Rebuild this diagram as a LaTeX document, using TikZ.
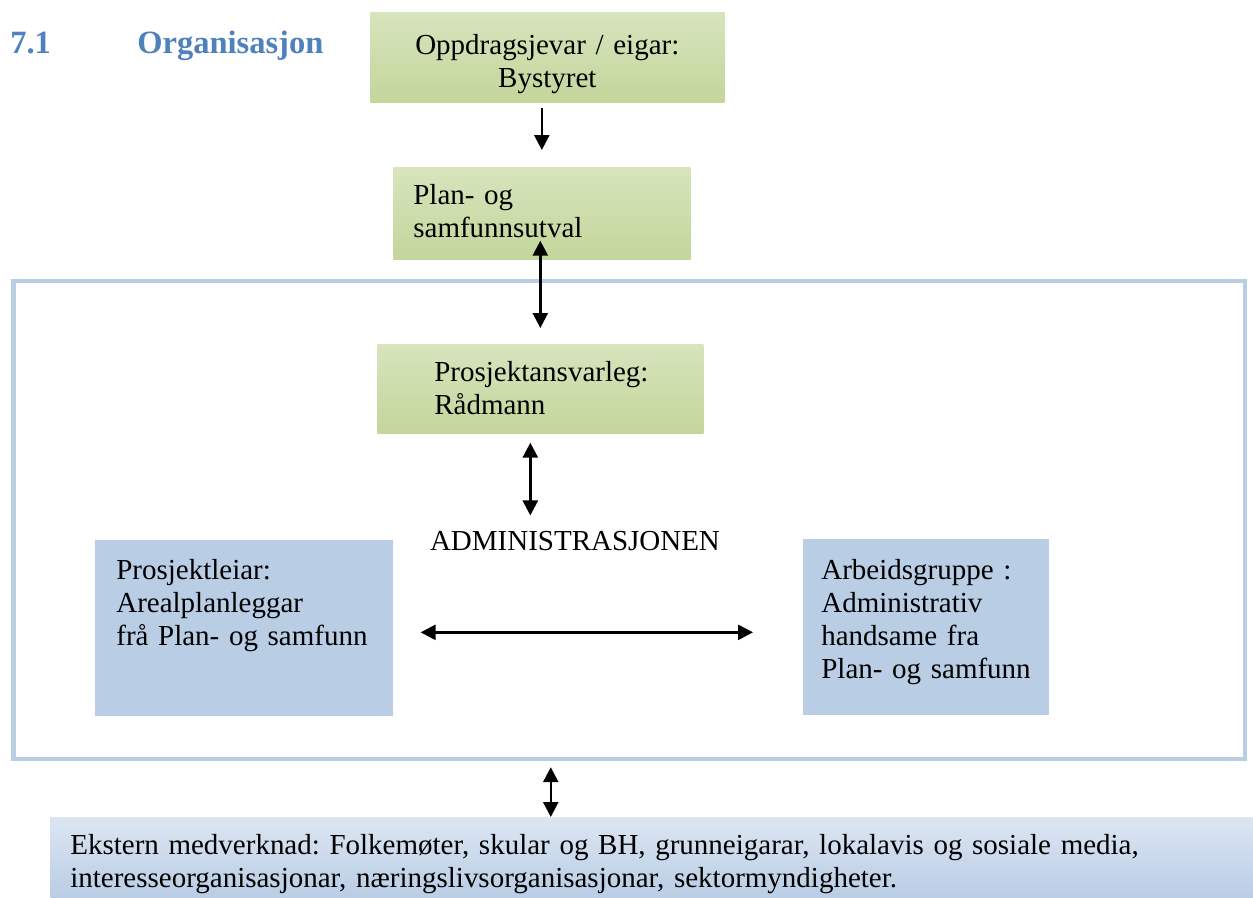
\documentclass[tikz,border=0pt]{standalone}
\usepackage{fontspec}
\setmainfont{Liberation Serif}
\usetikzlibrary{arrows.meta}
\frenchspacing

\definecolor{grontopp}{HTML}{D7E4BD}
\definecolor{gronbotn}{HTML}{C3D69B}
\definecolor{blaboks}{HTML}{B9CDE5}
\definecolor{blatopp}{HTML}{DCE6F2}
\definecolor{overskrift}{HTML}{4F81BD}

\begin{document}
\begin{tikzpicture}[
        x=0.02cm, y=-0.02cm,
        every node/.style={font=\fontsize{16.5}{18.8}\selectfont},
        gronboks/.style={rectangle, anchor=north west, inner ysep=0pt, align=left, top color=grontopp, bottom color=gronbotn},
        blaboks/.style={rectangle, anchor=north west, inner ysep=0pt, align=left, fill=blaboks},
        ramme/.style={rectangle, draw=blaboks, line width=0.09cm, inner sep=0pt, minimum width=24.63cm, minimum height=9.56cm},
        pil/.style={-{Triangle[width=0.3cm,length=0.3cm]}, line width=0.05cm},
        dobbelpil/.style={{Triangle[width=0.3cm,length=0.3cm]}-{Triangle[width=0.3cm,length=0.3cm]}, line width=0.05cm}
    ]
        \useasboundingbox (0,0) rectangle (1253,897);

        \node[anchor=base west, inner sep=0pt, text=overskrift, font=\fontsize{18.5}{22}\selectfont\bfseries] (tittel) at (10,53) {\makebox[2.54cm][l]{7.1}Organisasjon};

        \node[ramme] (ramme) at (629.25,520) {};

        \node[gronboks, align=center, inner xsep=0.4cm, text width=6.28cm, text height=0.84cm, text depth=0.96cm] (eigar) at (370,12) {Oppdragsjevar / eigar:\\Bystyret};
        \node[gronboks, inner xsep=0.4cm, text width=5.14cm, text height=0.74cm, text depth=1.1cm] (utval) at (393,167) {Plan- og\\samfunnsutval};
        \node[gronboks, inner xsep=1.14cm, text width=4.24cm, text height=0.74cm, text depth=1.04cm] (radmann) at (377,344) {\mbox{Prosjektansvarleg:}\\Rådmann};
        \node[anchor=base, inner sep=0pt] (admin) at (575,550) {ADMINISTRASJONEN};
        \node[blaboks, inner xsep=0.42cm, text width=5.12cm, text height=0.78cm, text depth=2.74cm] (leiar) at (95,540) {Prosjektleiar:\\Arealplanleggar\\frå Plan- og samfunn};
        \node[blaboks, inner xsep=0.36cm, text width=4.2cm, text height=0.8cm, text depth=2.72cm] (gruppe) at (803,539) {Arbeidsgruppe :\\Administrativ\\handsame fra\\\mbox{Plan- og samfunn}};
        \node[blaboks, top color=blatopp, bottom color=blaboks, inner xsep=0.4cm, text width=23.26cm, text height=0.74cm, text depth=0.86cm] (ekstern) at (50,817) {Ekstern medverknad: Folkemøter, skular og BH, grunneigarar, lokalavis og sosiale media,\\interesseorganisasjonar, næringslivsorganisasjonar, sektormyndigheter.};

        \draw[pil, shorten <=0.1cm, shorten >=0.34cm] (utval.north |- eigar.south) -- (utval.north);
        \draw[dobbelpil, shorten <=-0.38cm, shorten >=0.32cm] (radmann.north |- utval.south) -- (radmann.north);
        \draw[dobbelpil, shorten <=0.18cm, shorten >=0.3cm] ([xshift=-0.2cm]radmann.south) -- ([xshift=-0.2cm]radmann.south |- admin.north);
        \draw[dobbelpil, shorten <=0.54cm, shorten >=1cm] ([yshift=-0.08cm]leiar.east) -- ([yshift=-0.08cm]leiar.east -| gruppe.west);
        \draw[dobbelpil, shorten <=0.12cm] ([xshift=-1.57cm]ramme.south) -- ([xshift=-1.57cm]ramme.south |- ekstern.north);
    \end{tikzpicture}
\end{document}
